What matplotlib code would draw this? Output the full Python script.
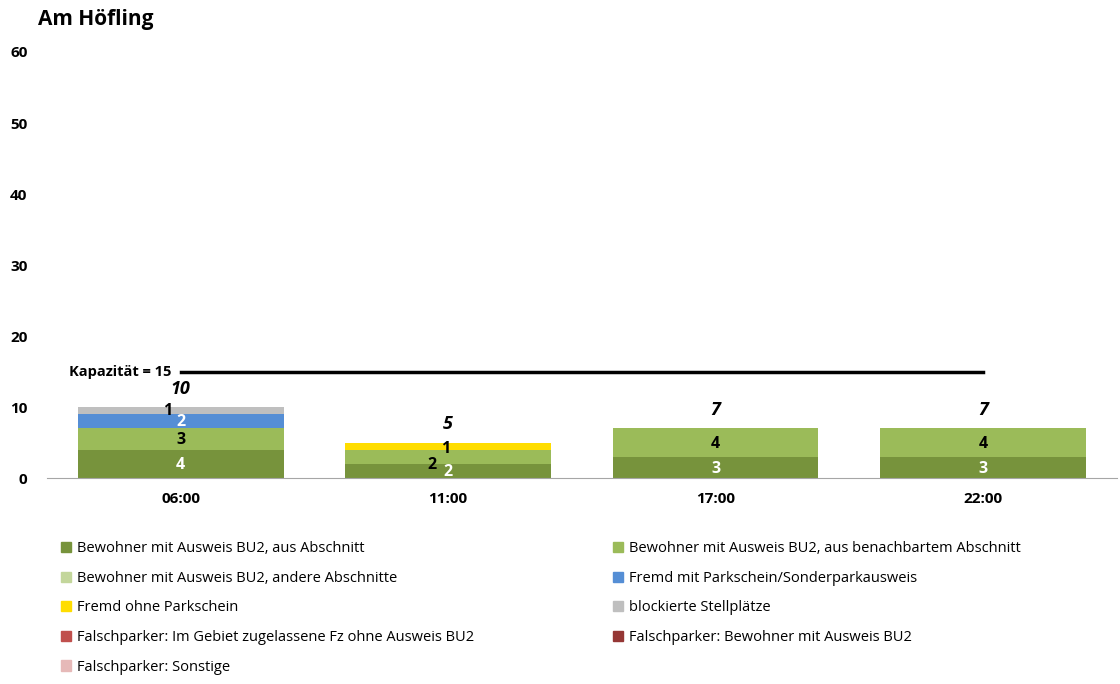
import matplotlib.pyplot as plt
import numpy as np
from matplotlib.patches import Patch

plt.rcParams['font.family'] = ['Open Sans', 'DejaVu Sans']

# Data
times = ["06:00", "11:00", "17:00", "22:00"]
categories = [
    "Bewohner mit Ausweis BU2, aus Abschnitt",
    "Bewohner mit Ausweis BU2, aus benachbartem Abschnitt",
    "Bewohner mit Ausweis BU2, andere Abschnitte",
    "Fremd mit Parkschein/Sonderparkausweis",
    "Fremd ohne Parkschein",
    "blockierte Stellplätze",
    "Falschparker: Im Gebiet zugelassene Fz ohne Ausweis BU2",
    "Falschparker: Bewohner mit Ausweis BU2",
    "Falschparker: Sonstige",
]
colors = ["#77933C", "#9BBB59", "#C3D69B", "#558ED5", "#FFDD00",
          "#BFBFBF", "#C0504D", "#953735", "#E6B9B8"]
label_colors = ["white", "black", "black", "white", "black",
                "black", "white", "white", "black"]
values = [
    [4, 2, 3, 3],  # aus Abschnitt
    [3, 2, 4, 4],  # benachbart
    [0, 0, 0, 0],  # andere
    [2, 0, 0, 0],  # Fremd mit Parkschein
    [0, 1, 0, 0],  # Fremd ohne Parkschein
    [1, 0, 0, 0],  # blockiert
    [0, 0, 0, 0],
    [0, 0, 0, 0],
    [0, 0, 0, 0],
]
capacity = 15

fig = plt.figure(figsize=(11.2, 6.84), dpi=100)
ax = fig.add_axes([0.042, 0.301, 0.955, 0.623])

x = np.arange(len(times))
bar_width = 0.77
bottom = np.zeros(len(times))
for i, vals in enumerate(values):
    vals = np.array(vals, dtype=float)
    ax.bar(x, vals, bar_width, bottom=bottom, color=colors[i], edgecolor='none')
    for j, v in enumerate(vals):
        if v > 0:
            ypos = bottom[j] + v / 2 - 0.15
            xpos = x[j]
            # thin segments on top: label sits a bit off, like the original
            if i == 5:
                xpos, ypos = x[j] - 0.05, bottom[j] + 0.4
            if i == 1 and j == 1:
                xpos, ypos = x[j] - 0.06, bottom[j] - 0.15
            if i == 4:
                xpos, ypos = x[j] - 0.01, bottom[j] + 0.15
            ax.text(xpos, ypos, f"{int(v)}", ha='center', va='center',
                    fontsize=11.5, fontweight='bold', color=label_colors[i])
    bottom += vals

totals = bottom
for j, t in enumerate(totals):
    ax.text(x[j], t + 1.3, f"{int(t)}", ha='center', va='bottom',
            fontsize=13, fontweight='bold', style='italic')

# capacity line
ax.plot([x[0], x[-1]], [capacity, capacity], color='black', lw=2.5)
ax.text(x[0] - 0.035, capacity, f"Kapazität = {capacity}", ha='right', va='center',
        fontsize=10.5, fontweight='bold')

ax.set_xlim(-0.5, len(times) - 0.5)
ax.set_ylim(0, 60)
ax.set_yticks(range(0, 61, 10))
ax.set_xticks(x)
ax.set_xticklabels(times)
for lbl in ax.get_xticklabels() + ax.get_yticklabels():
    lbl.set_fontweight('bold')
    lbl.set_fontsize(11)
ax.tick_params(axis='both', length=0)
ax.tick_params(axis='y', pad=14)
ax.tick_params(axis='x', pad=10)
for s in ['top', 'right', 'left']:
    ax.spines[s].set_visible(False)
ax.spines['bottom'].set_color('#A6A6A6')

fig.text(0.034, 0.972, "Am Höfling", fontsize=15, fontweight='bold', va='center')

# legend, row-major in two columns
handles = [Patch(color=c) for c in colors]
order = [0, 2, 4, 6, 8, 1, 3, 5, 7]
fig.legend([handles[k] for k in order], [categories[k] for k in order],
           ncol=2, loc='upper left', bbox_to_anchor=(0.043, 0.228),
           frameon=False, fontsize=10.5, handlelength=0.7, handleheight=0.7,
           handletextpad=0.4, columnspacing=9.5, labelspacing=1.0)

plt.savefig('out.png', dpi=100)
